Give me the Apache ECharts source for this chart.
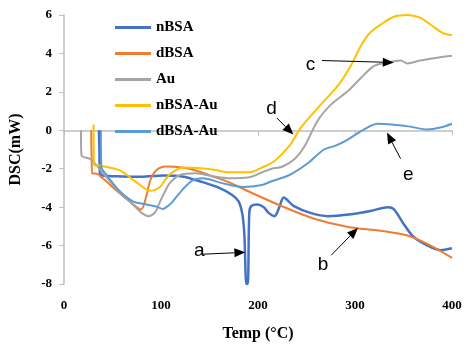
<!DOCTYPE html>
<html>
<head>
<meta charset="utf-8">
<script src="https://cdn.jsdelivr.net/npm/echarts@6/dist/echarts.min.js"></script>
<style>
  html, body { margin: 0; padding: 0; background: #fff; }
  #chart { width: 469px; height: 347px; }
</style>
</head>
<body>
<div id="chart"></div>
<script>
// [temp, dsc] pairs
const nBSA = [[36,0],[36.5,-1],[37,-2.2],[40,-2.35],[60,-2.4],[80,-2.42],[102,-2.35],[122,-2.4],[143,-2.7],[160,-3.0],[173,-3.35],[180,-3.7],[184,-4.4],[186,-5.5],[188,-8],[189.5,-8],[191,-4.3],[193,-3.95],[199,-3.86],[206,-4.0],[211,-4.3],[217,-4.47],[222,-4.0],[226.5,-3.5],[237,-3.95],[254,-4.3],[272,-4.47],[296,-4.37],[316,-4.2],[334,-4.0],[340,-4.1],[350,-4.86],[360,-5.53],[374.5,-5.99],[388,-6.24],[400,-6.14]];
const dBSA = [[28,0],[28.5,-1.5],[29,-2.25],[33,-2.25],[40,-2.5],[51,-3.0],[68,-3.71],[79.5,-4.12],[84.5,-3.5],[89,-2.6],[95,-2.09],[105,-1.89],[122,-1.94],[136,-2.09],[156,-2.45],[170,-2.7],[191,-3.2],[224.5,-3.95],[258,-4.6],[293,-5.03],[326.5,-5.23],[354,-5.48],[377.5,-5.99],[400,-6.64]];
const au = [[17.5,0],[18,-1.3],[27.5,-1.5],[34,-1.85],[44,-2.45],[58,-3.26],[71,-3.86],[80,-4.3],[87,-4.47],[94,-4.26],[99,-3.71],[104,-3.2],[109,-2.75],[119,-2.34],[136,-2.24],[153,-2.39],[170,-2.5],[191,-2.45],[204,-2.2],[214,-2.0],[225,-1.9],[238,-1.48],[248,-0.83],[262,0.54],[275.5,1.35],[293,2.06],[306,2.72],[319,3.33],[334,3.53],[347,3.63],[354,3.48],[367,3.63],[385,3.78],[400,3.88]];
const nBSAAu = [[30.5,0.3],[31,-1.8],[38,-1.85],[58,-2.1],[74.5,-2.7],[89,-3.15],[99,-2.95],[104,-2.6],[109,-2.3],[118,-2.0],[126,-1.94],[153,-2.04],[170,-2.19],[191,-2.19],[204,-1.94],[217,-1.6],[232,-0.83],[245,0.19],[265,1.35],[283,2.36],[296,3.38],[306,4.39],[316,5.1],[326.5,5.5],[340,5.91],[354,6.0],[367,5.86],[380.5,5.4],[391,5.05],[400,4.95]];
const dBSAAu = [[38,0],[38.5,-1.9],[44,-2.34],[58,-3.2],[68,-3.61],[74,-3.76],[85,-3.86],[95,-3.97],[102,-4.1],[108,-3.9],[112,-3.71],[122,-3.1],[133,-2.6],[143,-2.5],[163,-2.75],[184,-2.95],[204,-2.85],[214,-2.65],[232,-2.34],[252,-1.69],[268,-1.0],[280,-0.8],[293,-0.47],[309,0.04],[323.5,0.34],[340,0.29],[357,0.19],[374.5,0.04],[388,0.14],[400,0.34]];

const seriesNames = ["nBSA", "dBSA", "Au", "nBSA-Au", "dBSA-Au"];
const seriesData = [nBSA, dBSA, au, nBSAAu, dBSAAu];
const colors = ["#4472C4", "#ED7D31", "#A5A5A5", "#FFC000", "#5B9BD5"];
const widths = [2.5, 2, 2, 2, 2];

// letter annotations: label pos, arrow tail, arrow head (data coords)
const notes = [
  { t: "a", text: [139.5, -6.25], from: [143, -6.45], to: [187, -6.35] },
  { t: "b", text: [267, -7.0], from: [275.5, -6.5], to: [303, -5.08] },
  { t: "c", text: [254, 3.43], from: [266, 3.63], to: [340, 3.53] },
  { t: "d", text: [214, 1.1], from: [219.5, 0.64], to: [236.5, -0.22] },
  { t: "e", text: [355, -2.34], from: [347, -1.48], to: [333, -0.12] },
];

const serif = "'Liberation Serif', 'Times New Roman', serif";
const axisColor = "#BFBFBF";

const chart = echarts.init(document.getElementById("chart"));

chart.setOption({
  animation: false,
  color: colors,
  grid: { left: 60, right: 17, top: 15, bottom: 55, containLabel: false },
  legend: {
    orient: "vertical",
    left: 115,
    top: 20,
    padding: 0,
    icon: "rect",
    itemWidth: 36,
    itemHeight: 3,
    itemGap: 11,
    data: seriesNames,
    textStyle: { fontFamily: serif, fontWeight: "bold", fontSize: 15, color: "#000" },
  },
  xAxis: {
    type: "value",
    min: 0,
    max: 400,
    interval: 100,
    name: "Temp (°C)",
    nameLocation: "middle",
    nameGap: 42,
    nameTextStyle: { fontFamily: serif, fontWeight: "bold", fontSize: 16, color: "#000" },
    axisLine: { lineStyle: { color: axisColor, width: 1.5 } },
    axisTick: { show: true, length: 5, lineStyle: { color: axisColor } },
    axisLabel: { fontFamily: serif, fontWeight: "bold", fontSize: 13, color: "#000", margin: 15 },
    splitLine: { show: false },
  },
  yAxis: {
    type: "value",
    min: -8,
    max: 6,
    interval: 2,
    name: "DSC(mW)",
    nameLocation: "middle",
    nameGap: 40,
    nameTextStyle: { fontFamily: serif, fontWeight: "bold", fontSize: 16, color: "#000" },
    axisLine: { show: true, lineStyle: { color: axisColor, width: 1.5 } },
    axisTick: { show: true, length: 5, lineStyle: { color: axisColor } },
    axisLabel: { fontFamily: serif, fontWeight: "bold", fontSize: 13, color: "#000", margin: 12 },
    splitLine: { show: false },
  },
  series: seriesNames.map((name, i) => ({
    name,
    type: "line",
    data: seriesData[i],
    symbol: "none",
    smooth: 0.3,
    lineStyle: { width: widths[i], color: colors[i] },
  })),
});

// arrows + letters placed from data coords
const graphics = [];
notes.forEach((n) => {
  const p = chart.convertToPixel({ gridIndex: 0 }, n.text);
  const a = chart.convertToPixel({ gridIndex: 0 }, n.from);
  const b = chart.convertToPixel({ gridIndex: 0 }, n.to);
  const ang = Math.atan2(b[1] - a[1], b[0] - a[0]);
  const len = 11, half = 4.5;
  const bx = b[0] - len * Math.cos(ang), by = b[1] - len * Math.sin(ang);
  const nx = -Math.sin(ang) * half, ny = Math.cos(ang) * half;
  graphics.push({
    type: "line",
    shape: { x1: a[0], y1: a[1], x2: bx, y2: by },
    style: { stroke: "#000", lineWidth: 1 },
    z: 100,
  });
  graphics.push({
    type: "polygon",
    shape: { points: [[b[0], b[1]], [bx + nx, by + ny], [bx - nx, by - ny]] },
    style: { fill: "#000" },
    z: 100,
  });
  graphics.push({
    type: "text",
    x: p[0],
    y: p[1],
    style: {
      text: n.t,
      fill: "#000",
      font: "19px 'Liberation Sans', Arial, sans-serif",
      align: "center",
      verticalAlign: "middle",
    },
    z: 100,
  });
});
chart.setOption({ graphic: graphics });
</script>
</body>
</html>
